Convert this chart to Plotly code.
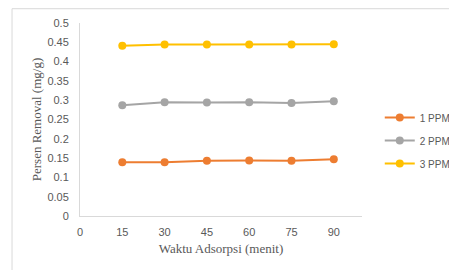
import plotly.graph_objects as go

waktu = [15, 30, 45, 60, 75, 90]
ppm1 = [0.139, 0.139, 0.143, 0.144, 0.143, 0.147]
ppm2 = [0.287, 0.295, 0.294, 0.295, 0.293, 0.297]
ppm3 = [0.441, 0.444, 0.444, 0.444, 0.444, 0.445]
names = ["1 PPM", "2 PPM", "3 PPM"]
colors = ["#ED7D31", "#A5A5A5", "#FFC000"]
x_ticks = [0, 15, 30, 45, 60, 75, 90]
y_ticks = [0, 0.05, 0.1, 0.15, 0.2, 0.25, 0.3, 0.35, 0.4, 0.45, 0.5]

fig = go.Figure()
for name, vals, c in zip(names, [ppm1, ppm2, ppm3], colors):
    fig.add_trace(go.Scatter(x=waktu, y=vals, name=name, mode="lines+markers",
                             legendgroup=name,
                             line=dict(color=c, width=2),
                             marker=dict(color=c, size=8)))

tick_font = dict(family="Liberation Sans, Arial, sans-serif", size=11, color="#595959")
title_font = dict(family="Liberation Serif, Times New Roman, serif", size=13, color="#595959")

fig.update_layout(
    width=449, height=262,
    margin=dict(l=72, r=95, t=15, b=54, autoexpand=False),
    paper_bgcolor="white", plot_bgcolor="white",
    showlegend=True,
    legend=dict(x=1.063, y=0.585, xanchor="left", yanchor="top",
                font=dict(family="Liberation Sans, Arial, sans-serif", size=10, color="#595959"),
                bgcolor="rgba(0,0,0,0)", itemwidth=30, tracegroupgap=4),
    xaxis=dict(range=[0, 100], tickvals=x_ticks, ticktext=[str(v) for v in x_ticks],
               showgrid=False, zeroline=False, showline=True, linecolor="#D9D9D9", linewidth=1,
               ticks="", tickfont=tick_font, automargin=False, ticklabelstandoff=6,
               title=dict(text="Waktu Adsorpsi (menit)", font=title_font, standoff=6)),
    yaxis=dict(range=[0, 0.5], tickvals=y_ticks, ticktext=[f"{v:g}" for v in y_ticks],
               showgrid=False, zeroline=False, showline=True, linecolor="#D9D9D9", linewidth=1,
               ticks="", tickfont=tick_font, automargin=False, ticklabelstandoff=8,
               title=dict(text="Persen Removal (mg/g)", font=title_font, standoff=2)),
    shapes=[dict(type="rect", xref="paper", yref="paper", x0=-0.241, x1=2.0, y0=-1.0, y1=1.074,
                 line=dict(color="#D9D9D9", width=1), fillcolor="rgba(0,0,0,0)")],
)

fig.write_html("out.html")
